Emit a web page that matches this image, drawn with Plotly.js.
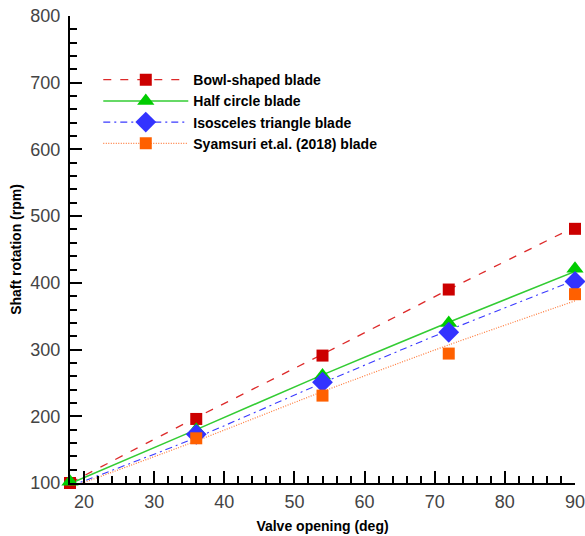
<!DOCTYPE html>
<html>
<head>
<meta charset="utf-8">
<script src="https://cdn.plot.ly/plotly-3.0.1.min.js"></script>
<style>html,body{margin:0;padding:0;background:#fff;}#chart{width:585px;height:536px;}</style>
</head>
<body>
<div id="chart"></div>
<script>
// Valve opening (deg)
const valveOpening = [18, 36, 54, 72, 90];
const seriesNames = ['Bowl-shaped blade', 'Half circle blade', 'Isosceles triangle blade', 'Syamsuri et.al. (2018) blade'];
// Measured shaft rotation (rpm) – markers
const bowlRpm = [100, 196, 291, 390, 481];
const halfRpm = [102, 180, 261, 340, 421];
const isoRpm = [97, 173, 251, 326, 402];
const syaRpm = [99, 167, 231, 294, 383];
// Fitted trend lines (rpm)
const bowlFit = [100, 198, 293, 390, 484];
const halfFit = [99, 180, 262, 341, 417];
const isoFit = [95, 168, 250, 329, 404];
const syaFit = [93, 163, 237, 307, 373];
const xTicks = [20, 30, 40, 50, 60, 70, 80, 90];
const yTicks = [100, 200, 300, 400, 500, 600, 700, 800];

const styles = [
  {line: {color: '#dd2a2a', width: 1.3, dash: '8px,9px'}, marker: {symbol: 'square', size: 12, color: '#cc0000'}},
  {line: {color: '#33cc33', width: 1.5, dash: 'solid'}, marker: {symbol: 'triangle-up', size: 15, color: '#00cc00'}},
  {line: {color: '#3a3aff', width: 1.1, dash: '7px,4px,2px,4px'}, marker: {symbol: 'diamond', size: 16, color: '#3333ff'}},
  {line: {color: '#ff7a3a', width: 1.2, dash: '1px,1.5px'}, marker: {symbol: 'square', size: 12, color: '#ff6000'}}
];
const fits = [bowlFit, halfFit, isoFit, syaFit];
const meas = [bowlRpm, halfRpm, isoRpm, syaRpm];

const traces = [];
for (let i = 0; i < 4; i++) {
  traces.push({x: valveOpening, y: fits[i], mode: 'lines', line: Object.assign({shape: 'spline', smoothing: 0.6}, styles[i].line),
    showlegend: false, hoverinfo: 'skip', cliponaxis: false});
}
for (let i = 0; i < 4; i++) {
  traces.push({x: valveOpening, y: meas[i], mode: 'markers', marker: Object.assign({line: {width: 0}}, styles[i].marker),
    showlegend: false, cliponaxis: false});
}
for (let i = 0; i < 4; i++) {
  traces.push({x: [null], y: [null], mode: 'lines+markers', name: seriesNames[i],
    line: styles[i].line, marker: Object.assign({line: {width: 0}}, styles[i].marker), showlegend: true});
}

const tickFont = {family: 'Liberation Sans, Arial, sans-serif', size: 18, color: '#444'};
const titleFont = {family: 'Liberation Sans, Arial, sans-serif', size: 14, color: '#000', weight: 'bold'};

const layout = {
  width: 585, height: 536,
  margin: {l: 70, r: 10, t: 16, b: 53},
  paper_bgcolor: '#fff', plot_bgcolor: '#fff',
  showlegend: true,
  legend: {x: 0.056, y: 0.897, xanchor: 'left', yanchor: 'top', bgcolor: 'rgba(0,0,0,0)', borderwidth: 0,
    itemwidth: 85, font: {family: 'Liberation Sans, Arial, sans-serif', size: 14, color: '#000', weight: 'bold'},
    tracegroupgap: 0},
  xaxis: {
    range: [18, 90], tickvals: xTicks, ticktext: xTicks.map(String),
    showgrid: false, zeroline: false, showline: true, linecolor: '#000', linewidth: 2,
    ticks: 'inside', ticklen: 12, tickwidth: 2, tickcolor: '#000',
    minor: {dtick: 2, tick0: 0, ticks: 'inside', ticklen: 7, tickwidth: 1.5, tickcolor: '#000', showgrid: false},
    tickfont: tickFont, ticklabelstandoff: 1, ticklabeloverflow: 'allow',
    title: {text: 'Valve opening (deg)', font: titleFont, standoff: 11}
  },
  yaxis: {
    range: [100, 800], tickvals: yTicks, ticktext: yTicks.map(String),
    showgrid: false, zeroline: false, showline: true, linecolor: '#000', linewidth: 2,
    ticks: 'inside', ticklen: 12, tickwidth: 2, tickcolor: '#000',
    minor: {dtick: 20, tick0: 0, ticks: 'inside', ticklen: 7, tickwidth: 1.5, tickcolor: '#000', showgrid: false},
    tickfont: tickFont, ticklabelstandoff: 4, ticklabeloverflow: 'allow',
    title: {text: 'Shaft rotation (rpm)', font: titleFont, standoff: 5}
  }
};

Plotly.newPlot('chart', traces, layout, {displayModeBar: false, responsive: false});
</script>
</body>
</html>
